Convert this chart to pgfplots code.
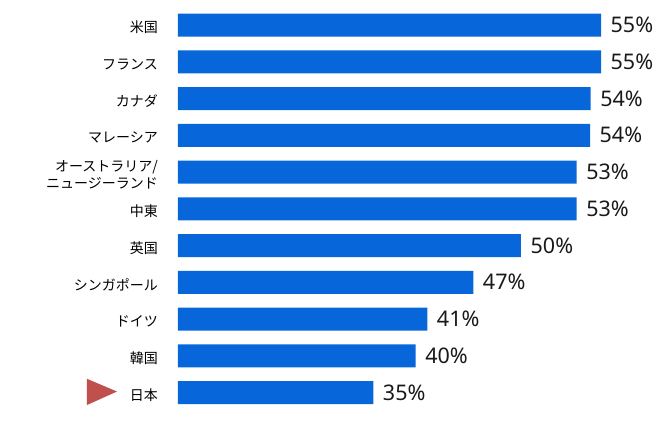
\documentclass[border=0pt]{standalone}
\usepackage{fontspec}
\setmainfont{Noto Sans}
\newfontfamily\cjk{Noto Sans CJK JP}
\usepackage{pgfplots}
\pgfplotsset{compat=1.18}
\usepackage{pgfplotstable}
\usetikzlibrary{calc}
\definecolor{barblue}{RGB}{7,103,218}
\definecolor{markred}{RGB}{192,80,77}

% len = bar length as drawn (pt), pct = printed value
\pgfplotstableread{
idx len   pct
0   423.0 55
1   423.0 55
2   412.7 54
3   412.0 54
4   398.7 53
5   398.7 53
6   343.0 50
7   295.3 47
8   249.3 41
9   237.7 40
10  195.3 35
}\shares

\begin{document}
\begin{tikzpicture}
\begin{axis}[
    name=ax,
    scale only axis,
    width=423pt, height=404.25pt,
    xbar, bar width=23pt,
    xmin=0, xmax=423,
    ymin=-0.5, ymax=10.5,
    y dir=reverse,
    enlarge x limits=false,
    hide x axis,
    axis y line*=left,
    y axis line style={draw=none},
    major tick length=0pt,
    ytick={0,...,10},
    yticklabels={米国,フランス,カナダ,マレーシア,{オーストラリア/\\ニュージーランド},中東,英国,シンガポール,ドイツ,韓国,日本},
    yticklabel style={font=\fontsize{14}{17}\selectfont\cjk, align=right, anchor=east, inner sep=0pt, xshift=-20pt, yshift=-2.5pt, text=black},
    clip=false,
    point meta=explicit symbolic,
    nodes near coords={\pgfplotspointmeta\%},
    nodes near coords style={font=\fontsize{21.5}{24}\selectfont, text=black!90, anchor=west, inner sep=0pt, xshift=9.5pt},
]
\addplot[fill=barblue, draw=none] table[x=len, y=idx, meta=pct] {\shares};
% marker beside the 日本 row
\fill[markred] ($(axis cs:0,10)+(-91pt,13.7pt)$) -- ($(axis cs:0,10)+(-61pt,1pt)$) -- ($(axis cs:0,10)+(-91pt,-12.5pt)$) -- cycle;
\end{axis}
\pgfresetboundingbox
\path ($(ax.south west)+(-178pt,-11.1pt)$) rectangle ++(670pt,422pt);
\end{tikzpicture}
\end{document}
